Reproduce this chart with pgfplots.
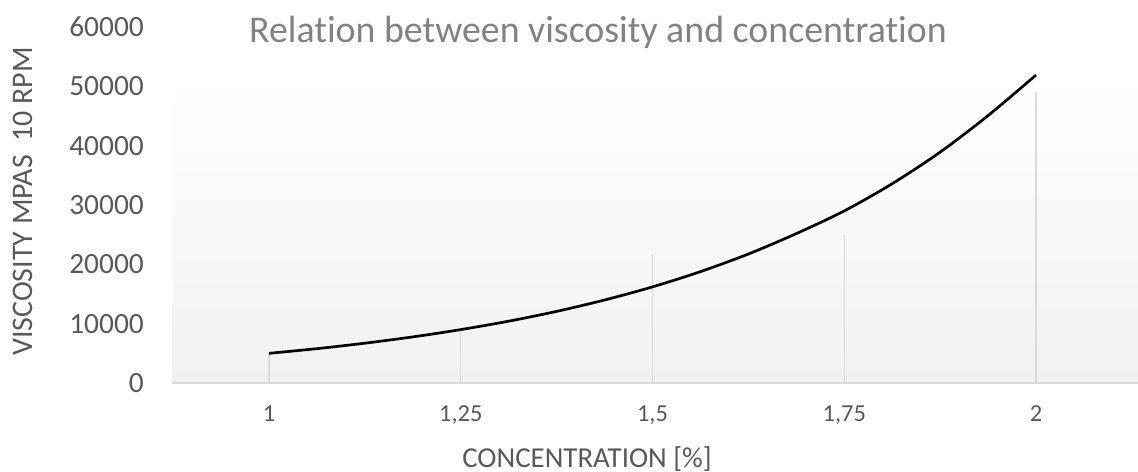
\documentclass[border=0pt]{standalone}
\usepackage{fontspec}
\setmainfont{Carlito}[Ligatures=NoCommon]
\usepackage{pgfplots}
\pgfplotsset{compat=1.18}
\definecolor{tickc}{HTML}{595959}
\definecolor{titlec}{HTML}{828282}
\definecolor{lineg}{HTML}{D9D9D9}
\definecolor{bgbot}{HTML}{F1F1F1}
\begin{document}
\begin{tikzpicture}
\begin{axis}[
  set layers,
  at={(172bp,89bp)}, anchor=south west,
  scale only axis, width=966bp, height=356bp,
  xmin=-0.506, xmax=4.532, ymin=0, ymax=60000,
  xtick={0,1,2,3,4}, xticklabels={1,{1,25},{1,5},{1,75},2},
  ytick={0,10000,20000,30000,40000,50000,60000},
  scaled y ticks=false,
  /pgf/number format/assume math mode=true,
  yticklabel={\pgfmathprintnumber[fixed,1000 sep={}]{\tick}},
  axis x line=bottom, axis y line=left,
  y axis line style={draw=none},
  x axis line style={draw=lineg, line width=1.5bp, -},
  major tick length=0pt, tick style={draw=none},
  yticklabel style={anchor=east, inner sep=0pt, xshift=-28bp, text=tickc, font=\fontsize{29.5}{32}\selectfont},
  xticklabel style={anchor=base, inner sep=0pt, yshift=-39bp, text=tickc, font=\fontsize{24.5}{27}\selectfont},
  clip=false,
]
\begin{pgfonlayer}{axis background}
\shade[top color=white, bottom color=bgbot] (axis cs:-0.506,0) rectangle (axis cs:4.532,52250);
\end{pgfonlayer}
\addplot[ycomb, draw=lineg, line width=1.3bp, no marks] coordinates {(0,5000) (1,9000) (2,21700) (3,24900) (4,49100)};
\addplot[black, line width=2.7bp, smooth, no marks] coordinates {
(0,5000) (0.25,5790) (0.5,6710) (0.75,7770) (1,9000) (1.25,10420) (1.5,12070) (1.75,13990)
(2,16200) (2.25,18770) (2.5,21740) (2.75,25180) (3,29000) (3.25,33590) (3.5,38910) (3.75,45070) (4,51900)};
\end{axis}
\node[anchor=base, text=titlec, font=\fontsize{38}{42}\selectfont, inner sep=0pt] at (598bp,429bp) {Relation between viscosity and concentration};
\node[anchor=base, text=tickc, font=\fontsize{29}{32}\selectfont, inner sep=0pt] at (587bp,5bp) {CONCENTRATION [\%]};
\node[anchor=base, rotate=90, text=tickc, font=\fontsize{30}{33}\selectfont, inner sep=0pt] at (32bp,270.5bp) {VISCOSITY MPAS\ \ 10 RPM};
\pgfresetboundingbox
\path (0,0) rectangle (1138bp,472bp);
\end{tikzpicture}
\end{document}
